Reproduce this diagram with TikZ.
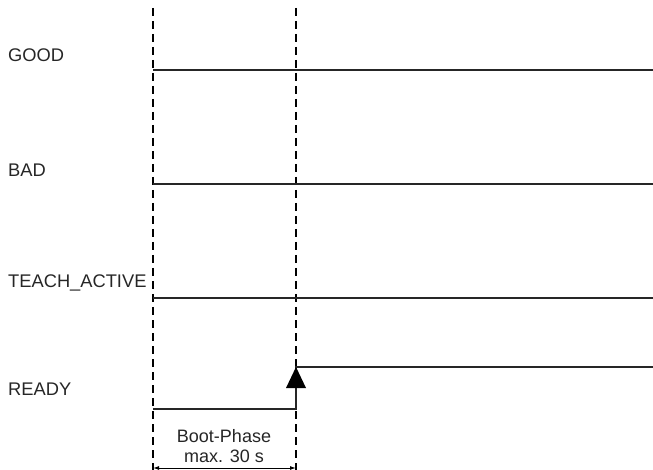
\documentclass[tikz,border=0pt]{standalone}
\usepackage{fontspec}
\setmainfont{Liberation Sans}
\usetikzlibrary{arrows.meta}
\begin{document}
\begin{tikzpicture}[x=1pt,y=-1pt]
			\tikzset{sig/.style={line width=2.4pt,black!85},
				mark line/.style={line width=1.6pt,dash pattern=on 8pt off 5pt},
				lbl/.style={anchor=west,inner sep=0pt,text=black!85,font=\fontsize{18.3}{20}\selectfont}}
			\useasboundingbox (0,0) rectangle (653,470);
			% time marks
			\coordinate (t0top) at (153,8);
			\coordinate (t0bot) at (153,470);
			\coordinate (t1top) at (296,8);
			\coordinate (t1bot) at (296,470);
			\draw [mark line] (t0top) -- (t0bot);
			\draw [mark line] (t1top) -- (t1bot);
			% signal names
			\node [lbl] (good) at (8,55) {GOOD};
			\node [lbl] (bad) at (8,170) {BAD};
			\node [lbl] (teach) at (8,283) {TEACH\_ACTIVE};
			\node [lbl] (ready) at (8,389) {READY};
			% signals
			\draw [sig] (153,70) -- (653,70);
			\draw [sig] (153,184) -- (653,184);
			\draw [sig] (153,298) -- (653,298);
			\coordinate (rlow) at (153,409);
			\coordinate (rstep) at (296,409);
			\coordinate (rhigh) at (296,367);
			\draw [sig] (rlow) -- (rstep) -- (rhigh) -- (653,367);
			\fill [black] (rhigh) -- (306,388) -- (286,388) -- cycle;
			% boot phase
			\node [text=black!85,font=\fontsize{18}{20}\selectfont,align=center] (boot) at (224,446) {Boot-Phase\\max. 30 s};
			\draw [line width=1pt,{Latex[length=6pt,width=4pt]}-{Latex[length=6pt,width=4pt]}] (153,468) -- (296,468);
		\end{tikzpicture}
\end{document}
